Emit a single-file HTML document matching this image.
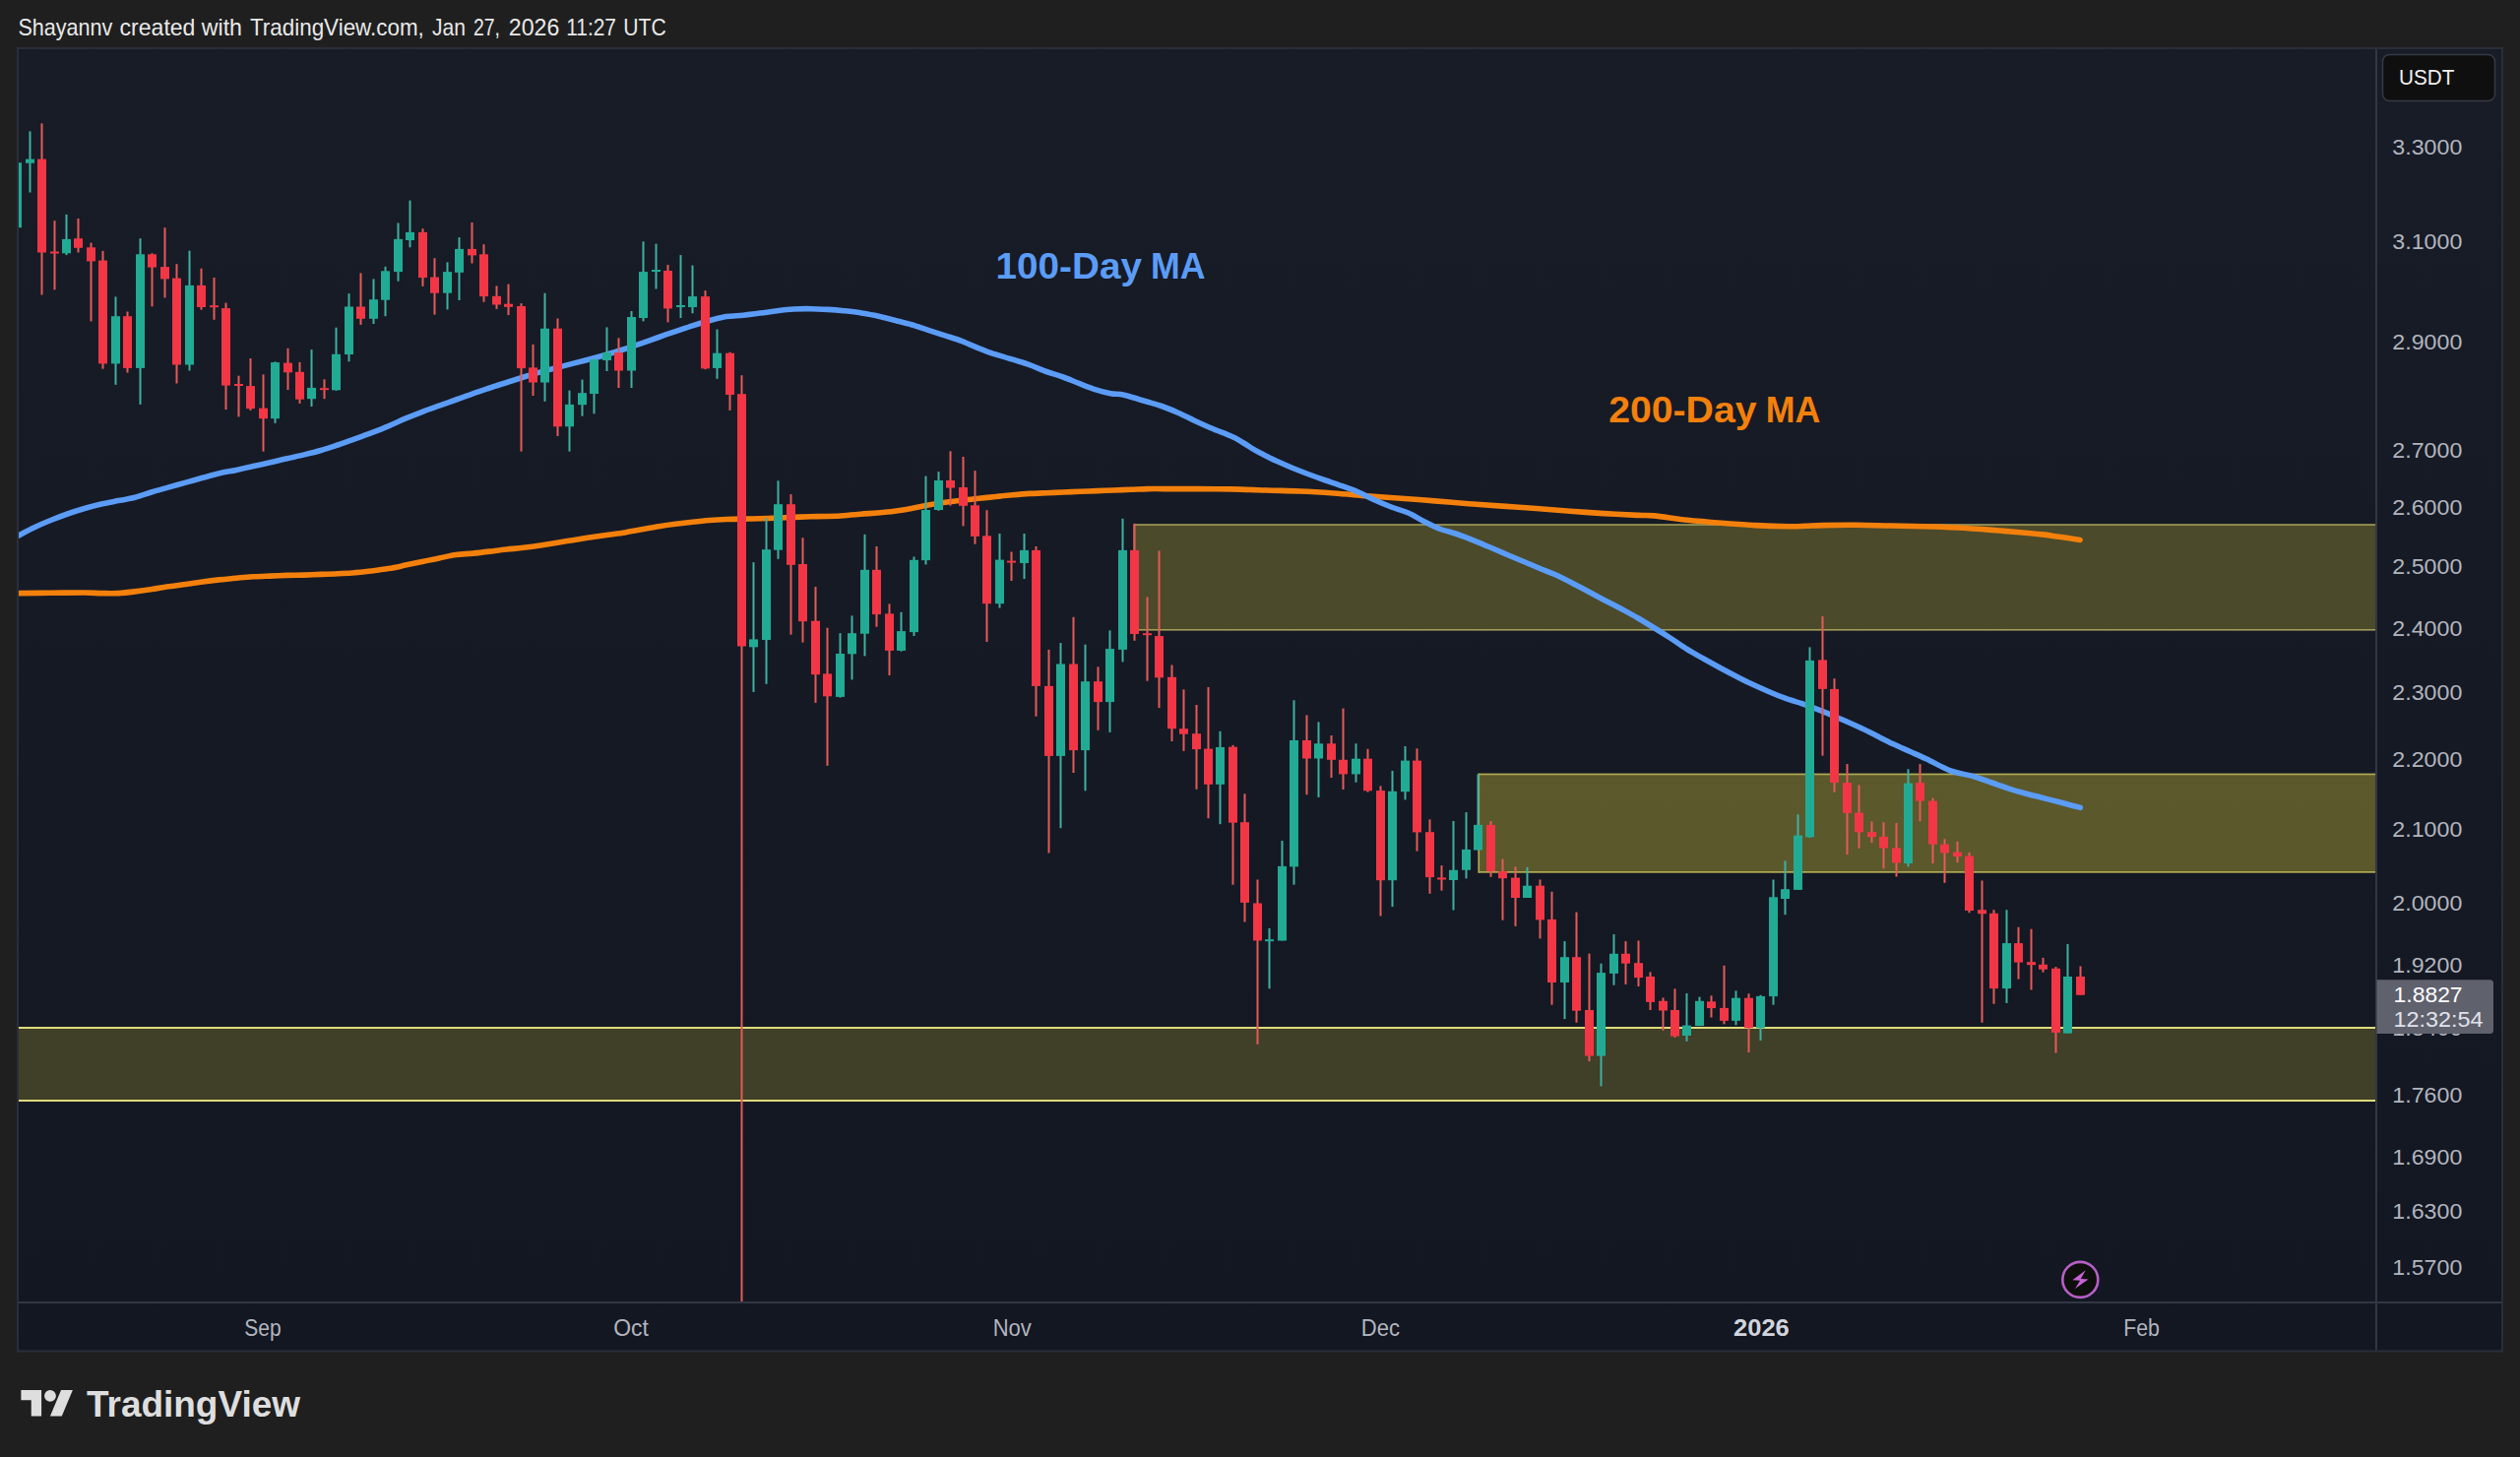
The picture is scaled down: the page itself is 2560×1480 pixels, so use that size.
<!DOCTYPE html>
<html lang="en"><head><meta charset="utf-8"><title>XRPUSDT chart - TradingView</title>
<style>html,body{margin:0;padding:0;background:#1f1f1f;}body{width:2560px;height:1480px;overflow:hidden;}svg{display:block}text{font-family:"Liberation Sans",sans-serif;}</style></head><body>
<svg width="2560" height="1480" viewBox="0 0 2560 1480">
<defs><linearGradient id="bg" x1="0" y1="0" x2="0" y2="1"><stop offset="0" stop-color="#181c27"/><stop offset="1" stop-color="#131722"/></linearGradient>
<clipPath id="pane"><rect x="19" y="50" width="2394" height="1272"/></clipPath></defs>
<rect x="0" y="0" width="2560" height="1480" fill="#1f1f1f"/>
<text y="36.3" font-size="23.6" fill="#e9e9e9"><tspan x="18.4" textLength="95.9" lengthAdjust="spacingAndGlyphs">Shayannv</tspan> <tspan x="121.6" textLength="76.8" lengthAdjust="spacingAndGlyphs">created</tspan> <tspan x="204.8" textLength="41.2" lengthAdjust="spacingAndGlyphs">with</tspan> <tspan x="254" textLength="176.8" lengthAdjust="spacingAndGlyphs">TradingView.com,</tspan> <tspan x="439" textLength="34.0" lengthAdjust="spacingAndGlyphs">Jan</tspan> <tspan x="481" textLength="27.0" lengthAdjust="spacingAndGlyphs">27,</tspan> <tspan x="516.8" textLength="51.5" lengthAdjust="spacingAndGlyphs">2026</tspan> <tspan x="575.2" textLength="50.8" lengthAdjust="spacingAndGlyphs">11:27</tspan> <tspan x="633.3" textLength="43.5" lengthAdjust="spacingAndGlyphs">UTC</tspan> </text>
<rect x="17" y="48" width="2526" height="1325.5" fill="#2a2e39"/>
<rect x="19" y="50" width="2522" height="1321.5" fill="url(#bg)"/>
<rect x="2413" y="50" width="2" height="1321.5" fill="#333744"/>
<rect x="19" y="1322" width="2522" height="2" fill="#333744"/>
<g clip-path="url(#pane)">
<rect x="1152" y="533" width="1261" height="107" fill="#ffeb3b" fill-opacity="0.23"/>
<rect x="1152" y="532.2" width="1261" height="1.6" fill="#a39d58"/>
<rect x="1152" y="639" width="1261" height="1.6" fill="#a39d58"/>
<rect x="1151.5" y="532.2" width="1.6" height="108.4" fill="#a39d58"/>
<rect x="1502" y="787" width="911" height="99" fill="#ffeb3b" fill-opacity="0.30"/>
<rect x="1502" y="785.6" width="911" height="1.7" fill="#b0aa52"/>
<rect x="1502" y="885" width="911" height="1.7" fill="#b0aa52"/>
<rect x="1501.4" y="785.6" width="1.7" height="101.1" fill="#b0aa52"/>
<rect x="19" y="1044" width="2394" height="74" fill="#ffeb3b" fill-opacity="0.19"/>
<rect x="19" y="1043" width="2394" height="2" fill="#dedb7c"/>
<rect x="19" y="1117" width="2394" height="2" fill="#dedb7c"/>
<path d="M17.8,602.6 C23.4,602.5 40.2,602.4 51.5,602.3 C62.8,602.2 77.2,602.0 85.8,602.0 C94.4,602.0 97.3,602.5 103.0,602.6 C108.7,602.7 114.4,602.9 120.1,602.6 C125.8,602.3 131.6,601.6 137.3,600.9 C143.0,600.2 148.7,599.4 154.4,598.5 C160.1,597.6 165.9,596.6 171.6,595.8 C177.3,594.9 183.0,594.2 188.7,593.4 C194.4,592.6 200.2,591.8 205.9,591.0 C211.6,590.2 217.3,589.5 223.0,588.9 C228.7,588.3 234.5,587.7 240.2,587.2 C245.9,586.7 251.7,586.1 257.4,585.8 C263.1,585.4 268.8,585.3 274.5,585.1 C280.2,584.9 286.0,584.6 291.7,584.4 C297.4,584.2 303.2,584.3 308.9,584.1 C314.6,583.9 320.3,583.6 326.0,583.4 C331.7,583.2 337.5,583.0 343.2,582.7 C348.9,582.4 354.6,582.2 360.3,581.7 C366.0,581.2 371.8,580.7 377.5,580.0 C383.2,579.3 388.9,578.6 394.6,577.6 C400.3,576.6 406.1,575.3 411.8,574.1 C417.5,572.9 423.3,571.6 429.0,570.4 C434.7,569.2 440.4,568.0 446.1,566.9 C451.8,565.8 457.6,564.3 463.3,563.5 C469.0,562.7 474.7,562.7 480.4,562.1 C486.1,561.5 491.9,560.8 497.6,560.1 C503.3,559.4 509.1,558.6 514.8,558.0 C520.5,557.4 526.2,557.0 531.9,556.3 C537.6,555.6 543.4,554.8 549.1,553.9 C554.8,553.0 560.5,552.1 566.2,551.2 C571.9,550.3 577.7,549.3 583.4,548.4 C589.1,547.5 594.8,546.6 600.5,545.7 C606.2,544.9 612.0,544.1 617.7,543.3 C623.4,542.5 629.2,541.8 634.9,540.9 C640.6,540.0 646.3,538.8 652.0,537.8 C657.7,536.8 663.5,535.6 669.2,534.7 C674.9,533.8 680.6,533.0 686.3,532.3 C692.0,531.5 697.8,530.8 703.5,530.2 C709.2,529.6 715.0,529.0 720.7,528.5 C726.4,528.0 732.1,527.7 737.8,527.5 C743.5,527.3 749.3,527.2 755.0,527.1 C760.7,527.0 766.4,527.0 772.1,526.8 C777.8,526.6 783.6,526.3 789.3,526.1 C795.0,525.9 800.7,525.6 806.4,525.4 C812.1,525.2 818.0,524.9 823.6,524.7 C829.2,524.6 834.4,524.7 840.0,524.5 C845.6,524.3 851.5,524.1 857.2,523.7 C862.9,523.3 868.6,522.8 874.3,522.3 C880.0,521.8 885.8,521.5 891.5,521.0 C897.2,520.5 902.9,520.0 908.6,519.2 C914.3,518.5 920.1,517.5 925.8,516.5 C931.5,515.5 937.3,514.1 943.0,513.1 C948.7,512.1 954.4,511.1 960.1,510.3 C965.8,509.5 971.6,509.0 977.3,508.3 C983.0,507.6 988.7,506.8 994.4,506.2 C1000.1,505.6 1005.9,505.1 1011.6,504.5 C1017.3,503.9 1023.0,503.3 1028.7,502.8 C1034.4,502.3 1040.2,501.8 1045.9,501.4 C1051.6,501.0 1057.4,500.9 1063.1,500.7 C1068.8,500.5 1074.5,500.2 1080.2,500.0 C1085.9,499.8 1091.7,499.5 1097.4,499.3 C1103.1,499.1 1108.8,498.8 1114.5,498.6 C1120.2,498.4 1126.0,498.2 1131.7,498.0 C1137.4,497.8 1143.2,497.5 1148.9,497.3 C1154.6,497.1 1160.3,496.7 1166.0,496.6 C1171.7,496.5 1174.6,496.6 1183.2,496.6 C1191.8,496.6 1206.1,496.6 1217.5,496.6 C1228.9,496.7 1240.4,496.7 1251.8,496.9 C1263.2,497.1 1274.7,497.6 1286.1,498.0 C1297.5,498.4 1309.0,498.5 1320.4,499.0 C1331.9,499.5 1343.3,500.2 1354.8,501.0 C1366.2,501.8 1377.7,502.9 1389.1,503.8 C1400.5,504.7 1412.0,505.4 1423.4,506.2 C1434.8,507.0 1446.3,508.0 1457.7,508.9 C1469.1,509.8 1480.6,510.8 1492.0,511.7 C1503.4,512.6 1514.8,513.3 1526.3,514.1 C1537.8,514.9 1549.2,515.6 1560.7,516.5 C1572.2,517.4 1583.6,518.4 1595.0,519.2 C1606.4,520.1 1617.9,520.9 1629.3,521.6 C1640.7,522.3 1655.1,523.0 1663.6,523.4 C1672.0,523.8 1671.5,523.1 1680.0,523.9 C1688.5,524.7 1702.9,527.0 1714.3,528.2 C1725.7,529.4 1737.1,530.3 1748.6,531.2 C1760.0,532.1 1771.5,533.0 1783.0,533.6 C1794.5,534.2 1808.7,534.6 1817.3,534.7 C1825.9,534.8 1828.7,534.5 1834.4,534.3 C1840.1,534.1 1843.0,533.8 1851.6,533.6 C1860.2,533.4 1874.5,533.2 1885.9,533.3 C1897.3,533.4 1908.8,533.8 1920.2,534.0 C1931.6,534.2 1943.0,534.4 1954.5,534.7 C1966.0,535.0 1977.5,535.4 1988.9,536.0 C2000.4,536.6 2011.8,537.5 2023.2,538.4 C2034.6,539.3 2048.9,540.5 2057.5,541.2 C2066.1,542.0 2069.0,542.2 2074.7,542.9 C2080.4,543.6 2085.4,544.4 2091.8,545.3 C2098.2,546.2 2109.6,547.9 2113.1,548.4" fill="none" stroke="#f4800c" stroke-width="5.6" stroke-linejoin="round" stroke-linecap="round"/>
<path d="M17.8,544.6 C20.6,543.2 28.7,538.7 34.3,536.0 C39.9,533.3 45.8,530.8 51.5,528.5 C57.2,526.2 62.9,524.0 68.6,522.0 C74.3,520.0 80.1,518.2 85.8,516.5 C91.5,514.8 97.3,513.3 103.0,512.0 C108.7,510.7 114.4,509.7 120.1,508.6 C125.8,507.5 131.6,506.7 137.3,505.2 C143.0,503.7 148.7,501.4 154.4,499.7 C160.1,498.0 165.9,496.5 171.6,494.9 C177.3,493.3 183.0,491.7 188.7,490.1 C194.4,488.5 200.2,486.9 205.9,485.3 C211.6,483.8 217.3,482.1 223.0,480.8 C228.7,479.5 234.5,478.6 240.2,477.4 C245.9,476.2 251.7,474.9 257.4,473.6 C263.1,472.3 268.8,471.1 274.5,469.8 C280.2,468.5 286.0,467.0 291.7,465.7 C297.4,464.4 303.2,463.3 308.9,461.9 C314.6,460.5 320.3,459.1 326.0,457.5 C331.7,455.9 337.5,453.9 343.2,452.0 C348.9,450.1 354.6,447.9 360.3,445.8 C366.0,443.7 371.8,441.8 377.5,439.6 C383.2,437.4 388.9,435.2 394.6,432.8 C400.3,430.4 406.1,427.6 411.8,425.2 C417.5,422.8 423.3,420.5 429.0,418.3 C434.7,416.1 440.4,414.2 446.1,412.2 C451.8,410.1 457.6,408.1 463.3,406.0 C469.0,403.9 474.7,401.8 480.4,399.8 C486.1,397.8 491.9,395.9 497.6,394.0 C503.3,392.1 509.1,390.3 514.8,388.5 C520.5,386.7 526.2,384.8 531.9,383.0 C537.6,381.2 543.4,379.5 549.1,377.9 C554.8,376.3 560.5,374.9 566.2,373.4 C571.9,371.9 577.7,370.4 583.4,368.9 C589.1,367.4 594.8,366.0 600.5,364.5 C606.2,363.0 612.0,361.4 617.7,359.7 C623.4,358.0 629.2,356.3 634.9,354.5 C640.6,352.7 646.3,350.7 652.0,348.7 C657.7,346.7 663.5,344.5 669.2,342.5 C674.9,340.5 680.6,338.6 686.3,336.7 C692.0,334.8 697.8,332.6 703.5,330.8 C709.2,329.0 715.0,327.2 720.7,325.7 C726.4,324.2 732.1,322.5 737.8,321.6 C743.5,320.7 749.3,320.8 755.0,320.2 C760.7,319.6 766.4,318.9 772.1,318.1 C777.8,317.4 783.6,316.4 789.3,315.7 C795.0,315.0 800.7,314.3 806.4,314.0 C812.1,313.7 817.9,313.6 823.6,313.7 C829.3,313.8 835.2,314.1 840.8,314.4 C846.4,314.7 851.6,315.1 857.2,315.7 C862.8,316.3 868.6,316.9 874.3,317.8 C880.0,318.7 885.8,319.6 891.5,320.9 C897.2,322.1 902.9,323.8 908.6,325.3 C914.3,326.8 920.1,328.1 925.8,329.8 C931.5,331.5 937.3,333.5 943.0,335.3 C948.7,337.1 954.4,338.9 960.1,340.8 C965.8,342.7 971.6,344.4 977.3,346.6 C983.0,348.8 989.8,351.9 994.4,353.8 C999.0,355.7 1001.8,356.9 1004.7,357.9 C1007.6,358.9 1007.6,358.8 1011.6,360.0 C1015.6,361.2 1023.0,363.4 1028.7,365.2 C1034.4,367.0 1040.2,368.6 1045.9,370.6 C1051.6,372.7 1057.4,375.4 1063.1,377.5 C1068.8,379.6 1074.4,381.0 1080.0,383.0 C1085.6,385.0 1091.2,387.6 1096.7,389.7 C1102.2,391.8 1108.0,394.1 1113.3,395.8 C1118.6,397.5 1124.1,398.9 1128.3,399.7 C1132.5,400.5 1135.2,400.0 1138.3,400.5 C1141.4,401.0 1142.5,401.3 1146.7,402.5 C1150.9,403.7 1157.8,405.8 1163.3,407.5 C1168.8,409.2 1174.4,410.6 1180.0,412.5 C1185.6,414.4 1191.2,416.8 1196.7,419.2 C1202.2,421.6 1207.8,424.6 1213.3,427.2 C1218.8,429.8 1224.4,432.3 1230.0,434.7 C1235.6,437.1 1242.5,439.6 1246.7,441.3 C1250.9,443.0 1252.2,443.6 1255.0,445.0 C1257.8,446.4 1260.5,448.3 1263.3,450.0 C1266.1,451.7 1268.9,453.6 1271.7,455.3 C1274.5,457.0 1277.2,458.5 1280.0,460.0 C1282.8,461.5 1285.5,462.8 1288.3,464.2 C1291.1,465.6 1292.5,466.4 1296.7,468.3 C1300.9,470.2 1307.8,473.2 1313.3,475.5 C1318.8,477.8 1324.4,479.9 1330.0,482.0 C1335.6,484.1 1341.2,486.1 1346.7,488.0 C1352.2,489.9 1357.8,491.7 1363.3,493.7 C1368.8,495.7 1374.4,497.6 1380.0,500.0 C1385.6,502.4 1391.2,505.5 1396.7,508.0 C1402.2,510.5 1407.8,512.9 1413.3,515.0 C1418.8,517.1 1424.4,518.3 1430.0,520.8 C1435.6,523.2 1441.2,526.9 1446.7,529.7 C1452.2,532.5 1457.8,535.4 1463.3,537.5 C1468.8,539.6 1474.4,540.6 1480.0,542.5 C1485.6,544.4 1491.2,546.6 1496.7,548.8 C1502.2,551.0 1507.8,553.4 1513.3,555.8 C1518.8,558.2 1524.4,560.6 1530.0,563.0 C1535.6,565.4 1541.2,567.7 1546.7,570.0 C1552.2,572.3 1557.8,574.7 1563.3,577.0 C1568.8,579.3 1574.4,581.2 1580.0,583.7 C1585.6,586.2 1591.2,589.1 1596.7,592.0 C1602.2,594.9 1607.8,597.8 1613.3,600.8 C1618.8,603.8 1624.4,606.8 1630.0,609.7 C1635.6,612.6 1641.2,615.3 1646.7,618.3 C1652.2,621.3 1657.8,624.3 1663.3,627.5 C1668.8,630.7 1674.4,634.1 1680.0,637.5 C1685.6,640.9 1691.2,644.4 1696.7,648.0 C1702.2,651.6 1707.8,655.7 1713.3,659.2 C1718.8,662.7 1724.4,665.7 1730.0,668.8 C1735.6,671.9 1741.2,675.0 1746.7,678.0 C1752.2,681.0 1757.8,683.9 1763.3,686.7 C1768.8,689.5 1774.4,692.4 1780.0,695.0 C1785.6,697.6 1791.2,700.1 1796.7,702.5 C1802.2,704.9 1807.8,707.2 1813.3,709.2 C1818.8,711.2 1825.5,713.0 1830.0,714.5 C1834.5,716.0 1835.5,716.5 1840.0,718.2 C1844.5,719.9 1851.2,722.5 1856.7,724.7 C1862.2,727.0 1867.8,729.3 1873.3,731.7 C1878.8,734.1 1884.4,736.6 1890.0,739.2 C1895.6,741.8 1901.2,744.7 1906.7,747.5 C1912.2,750.3 1917.8,753.2 1923.3,755.8 C1928.8,758.4 1934.4,760.8 1940.0,763.3 C1945.6,765.8 1951.2,768.1 1956.7,770.8 C1962.2,773.4 1969.1,777.2 1973.3,779.2 C1977.5,781.2 1978.9,782.0 1981.7,783.0 C1984.5,784.0 1985.8,784.3 1990.0,785.3 C1994.2,786.3 2001.2,787.6 2006.7,789.2 C2012.2,790.8 2017.8,793.1 2023.3,795.0 C2028.8,796.9 2034.4,799.0 2040.0,800.8 C2045.6,802.6 2051.1,804.3 2056.7,805.8 C2062.2,807.3 2067.8,808.6 2073.3,810.0 C2078.9,811.4 2084.4,812.8 2090.0,814.2 C2095.6,815.7 2102.8,817.7 2106.7,818.7 C2110.6,819.7 2112.2,820.0 2113.3,820.3" fill="none" stroke="#5b9cf6" stroke-width="5.6" stroke-linejoin="round" stroke-linecap="round"/>
<rect x="16.5" y="145.6" width="2" height="97.4" fill="#3fb0a2"/>
<rect x="13" y="165.2" width="9" height="66.0" fill="#22ab94"/>
<rect x="29.5" y="133.4" width="2" height="62.1" fill="#3fb0a2"/>
<rect x="26" y="161.6" width="9" height="4.1" fill="#22ab94"/>
<rect x="41.5" y="125.3" width="2" height="174.2" fill="#e65a58"/>
<rect x="38" y="161.6" width="9" height="94.9" fill="#f23645"/>
<rect x="54.5" y="224.2" width="2" height="70.1" fill="#e65a58"/>
<rect x="51" y="255.5" width="9" height="2.0" fill="#f23645"/>
<rect x="66.5" y="217.9" width="2" height="41.2" fill="#3fb0a2"/>
<rect x="63" y="242.9" width="9" height="14.4" fill="#22ab94"/>
<rect x="78.5" y="222.0" width="2" height="34.5" fill="#e65a58"/>
<rect x="75" y="242.2" width="9" height="9.6" fill="#f23645"/>
<rect x="91.5" y="246.6" width="2" height="79.8" fill="#e65a58"/>
<rect x="88" y="251.3" width="9" height="14.1" fill="#f23645"/>
<rect x="103.5" y="254.9" width="2" height="119.8" fill="#e65a58"/>
<rect x="100" y="264.6" width="9" height="104.8" fill="#f23645"/>
<rect x="116.5" y="301.4" width="2" height="89.4" fill="#3fb0a2"/>
<rect x="113" y="321.2" width="9" height="48.2" fill="#22ab94"/>
<rect x="128.5" y="316.5" width="2" height="62.1" fill="#e65a58"/>
<rect x="125" y="321.2" width="9" height="52.7" fill="#f23645"/>
<rect x="141.5" y="242.2" width="2" height="168.7" fill="#3fb0a2"/>
<rect x="138" y="258.3" width="9" height="115.6" fill="#22ab94"/>
<rect x="153.5" y="257.3" width="2" height="54.0" fill="#e65a58"/>
<rect x="150" y="258.3" width="9" height="13.3" fill="#f23645"/>
<rect x="166.5" y="231.2" width="2" height="71.2" fill="#e65a58"/>
<rect x="163" y="271.1" width="9" height="12.3" fill="#f23645"/>
<rect x="178.5" y="268.2" width="2" height="121.3" fill="#e65a58"/>
<rect x="175" y="282.6" width="9" height="87.9" fill="#f23645"/>
<rect x="191.5" y="254.7" width="2" height="121.8" fill="#3fb0a2"/>
<rect x="188" y="289.9" width="9" height="80.6" fill="#22ab94"/>
<rect x="203.5" y="272.7" width="2" height="42.0" fill="#e65a58"/>
<rect x="200" y="289.9" width="9" height="22.1" fill="#f23645"/>
<rect x="216.5" y="282.0" width="2" height="42.8" fill="#e65a58"/>
<rect x="213" y="310.2" width="9" height="2.0" fill="#f23645"/>
<rect x="228.5" y="307.6" width="2" height="108.5" fill="#e65a58"/>
<rect x="225" y="313.1" width="9" height="78.5" fill="#f23645"/>
<rect x="241.5" y="381.7" width="2" height="41.7" fill="#e65a58"/>
<rect x="238" y="390.0" width="9" height="2.0" fill="#f23645"/>
<rect x="253.5" y="364.0" width="2" height="52.9" fill="#e65a58"/>
<rect x="250" y="392.1" width="9" height="23.0" fill="#f23645"/>
<rect x="266.5" y="380.4" width="2" height="78.2" fill="#e65a58"/>
<rect x="263" y="414.6" width="9" height="10.6" fill="#f23645"/>
<rect x="278.5" y="367.3" width="2" height="62.6" fill="#3fb0a2"/>
<rect x="275" y="368.1" width="9" height="57.1" fill="#22ab94"/>
<rect x="291.5" y="353.8" width="2" height="42.2" fill="#e65a58"/>
<rect x="288" y="368.6" width="9" height="9.7" fill="#f23645"/>
<rect x="303.5" y="367.9" width="2" height="42.0" fill="#e65a58"/>
<rect x="300" y="377.8" width="9" height="27.9" fill="#f23645"/>
<rect x="315.5" y="355.1" width="2" height="57.9" fill="#3fb0a2"/>
<rect x="312" y="393.9" width="9" height="11.3" fill="#22ab94"/>
<rect x="328.5" y="385.3" width="2" height="19.9" fill="#e65a58"/>
<rect x="325" y="394.2" width="9" height="2.0" fill="#f23645"/>
<rect x="340.5" y="332.7" width="2" height="64.1" fill="#3fb0a2"/>
<rect x="337" y="359.8" width="9" height="36.5" fill="#22ab94"/>
<rect x="353.5" y="298.2" width="2" height="69.1" fill="#3fb0a2"/>
<rect x="350" y="311.5" width="9" height="48.5" fill="#22ab94"/>
<rect x="365.5" y="277.4" width="2" height="52.6" fill="#e65a58"/>
<rect x="362" y="311.5" width="9" height="12.3" fill="#f23645"/>
<rect x="378.5" y="283.4" width="2" height="45.6" fill="#3fb0a2"/>
<rect x="375" y="304.2" width="9" height="19.6" fill="#22ab94"/>
<rect x="390.5" y="270.8" width="2" height="50.4" fill="#3fb0a2"/>
<rect x="387" y="275.3" width="9" height="29.4" fill="#22ab94"/>
<rect x="403.5" y="226.5" width="2" height="59.2" fill="#3fb0a2"/>
<rect x="400" y="242.9" width="9" height="33.2" fill="#22ab94"/>
<rect x="415.5" y="203.6" width="2" height="47.7" fill="#3fb0a2"/>
<rect x="412" y="235.9" width="9" height="8.1" fill="#22ab94"/>
<rect x="428.5" y="232.2" width="2" height="58.7" fill="#e65a58"/>
<rect x="425" y="235.9" width="9" height="46.2" fill="#f23645"/>
<rect x="440.5" y="262.2" width="2" height="57.4" fill="#e65a58"/>
<rect x="437" y="281.5" width="9" height="16.2" fill="#f23645"/>
<rect x="453.5" y="266.4" width="2" height="48.0" fill="#3fb0a2"/>
<rect x="450" y="276.1" width="9" height="21.6" fill="#22ab94"/>
<rect x="465.5" y="241.1" width="2" height="63.9" fill="#3fb0a2"/>
<rect x="462" y="252.9" width="9" height="23.9" fill="#22ab94"/>
<rect x="478.5" y="226.0" width="2" height="41.5" fill="#e65a58"/>
<rect x="475" y="252.9" width="9" height="6.5" fill="#f23645"/>
<rect x="490.5" y="248.2" width="2" height="58.6" fill="#e65a58"/>
<rect x="487" y="258.3" width="9" height="42.8" fill="#f23645"/>
<rect x="503.5" y="290.4" width="2" height="23.5" fill="#e65a58"/>
<rect x="500" y="300.8" width="9" height="8.7" fill="#f23645"/>
<rect x="515.5" y="288.6" width="2" height="31.5" fill="#e65a58"/>
<rect x="512" y="308.7" width="9" height="3.1" fill="#f23645"/>
<rect x="528.5" y="308.1" width="2" height="150.5" fill="#e65a58"/>
<rect x="525" y="311.0" width="9" height="63.1" fill="#f23645"/>
<rect x="540.5" y="349.9" width="2" height="52.1" fill="#e65a58"/>
<rect x="537" y="373.4" width="9" height="15.1" fill="#f23645"/>
<rect x="552.5" y="297.7" width="2" height="110.1" fill="#3fb0a2"/>
<rect x="549" y="333.7" width="9" height="54.8" fill="#22ab94"/>
<rect x="565.5" y="323.5" width="2" height="119.5" fill="#e65a58"/>
<rect x="562" y="333.7" width="9" height="99.6" fill="#f23645"/>
<rect x="577.5" y="396.6" width="2" height="62.0" fill="#3fb0a2"/>
<rect x="574" y="410.9" width="9" height="22.4" fill="#22ab94"/>
<rect x="590.5" y="385.6" width="2" height="37.0" fill="#3fb0a2"/>
<rect x="587" y="399.2" width="9" height="12.0" fill="#22ab94"/>
<rect x="602.5" y="364.0" width="2" height="56.3" fill="#3fb0a2"/>
<rect x="599" y="365.3" width="9" height="34.7" fill="#22ab94"/>
<rect x="615.5" y="332.4" width="2" height="44.6" fill="#3fb0a2"/>
<rect x="612" y="358.2" width="9" height="7.8" fill="#22ab94"/>
<rect x="627.5" y="343.4" width="2" height="50.6" fill="#e65a58"/>
<rect x="624" y="358.2" width="9" height="18.3" fill="#f23645"/>
<rect x="640.5" y="316.0" width="2" height="78.0" fill="#3fb0a2"/>
<rect x="637" y="322.0" width="9" height="54.5" fill="#22ab94"/>
<rect x="652.5" y="245.3" width="2" height="81.1" fill="#3fb0a2"/>
<rect x="649" y="276.1" width="9" height="46.9" fill="#22ab94"/>
<rect x="665.5" y="247.6" width="2" height="45.9" fill="#3fb0a2"/>
<rect x="662" y="274.0" width="9" height="2.0" fill="#22ab94"/>
<rect x="677.5" y="269.0" width="2" height="58.4" fill="#e65a58"/>
<rect x="674" y="275.0" width="9" height="38.4" fill="#f23645"/>
<rect x="690.5" y="259.1" width="2" height="63.9" fill="#3fb0a2"/>
<rect x="687" y="310.0" width="9" height="2.0" fill="#22ab94"/>
<rect x="702.5" y="269.5" width="2" height="48.8" fill="#3fb0a2"/>
<rect x="699" y="301.1" width="9" height="11.0" fill="#22ab94"/>
<rect x="715.5" y="295.1" width="2" height="80.1" fill="#e65a58"/>
<rect x="712" y="301.1" width="9" height="73.3" fill="#f23645"/>
<rect x="727.5" y="334.5" width="2" height="50.3" fill="#3fb0a2"/>
<rect x="724" y="358.7" width="9" height="15.2" fill="#22ab94"/>
<rect x="740.5" y="357.7" width="2" height="59.2" fill="#e65a58"/>
<rect x="737" y="358.7" width="9" height="42.3" fill="#f23645"/>
<rect x="752.5" y="381.2" width="2" height="940.8" fill="#e65a58"/>
<rect x="749" y="400.2" width="9" height="256.3" fill="#f23645"/>
<rect x="764.5" y="571.2" width="2" height="131.7" fill="#3fb0a2"/>
<rect x="761" y="649.4" width="9" height="7.9" fill="#22ab94"/>
<rect x="777.5" y="526.1" width="2" height="168.7" fill="#3fb0a2"/>
<rect x="774" y="558.2" width="9" height="91.8" fill="#22ab94"/>
<rect x="789.5" y="488.3" width="2" height="79.5" fill="#3fb0a2"/>
<rect x="786" y="512.2" width="9" height="46.5" fill="#22ab94"/>
<rect x="802.5" y="502.1" width="2" height="142.6" fill="#e65a58"/>
<rect x="799" y="512.2" width="9" height="61.6" fill="#f23645"/>
<rect x="814.5" y="546.2" width="2" height="106.4" fill="#e65a58"/>
<rect x="811" y="573.0" width="9" height="58.2" fill="#f23645"/>
<rect x="827.5" y="596.0" width="2" height="117.9" fill="#e65a58"/>
<rect x="824" y="630.7" width="9" height="54.5" fill="#f23645"/>
<rect x="839.5" y="637.7" width="2" height="140.1" fill="#e65a58"/>
<rect x="836" y="684.4" width="9" height="22.9" fill="#f23645"/>
<rect x="852.5" y="643.2" width="2" height="65.4" fill="#3fb0a2"/>
<rect x="849" y="664.0" width="9" height="43.9" fill="#22ab94"/>
<rect x="864.5" y="625.4" width="2" height="65.0" fill="#3fb0a2"/>
<rect x="861" y="643.2" width="9" height="21.1" fill="#22ab94"/>
<rect x="877.5" y="542.8" width="2" height="123.6" fill="#3fb0a2"/>
<rect x="874" y="578.8" width="9" height="64.9" fill="#22ab94"/>
<rect x="889.5" y="555.0" width="2" height="81.7" fill="#e65a58"/>
<rect x="886" y="578.8" width="9" height="45.3" fill="#f23645"/>
<rect x="902.5" y="613.4" width="2" height="72.6" fill="#e65a58"/>
<rect x="899" y="623.4" width="9" height="37.5" fill="#f23645"/>
<rect x="914.5" y="621.8" width="2" height="39.9" fill="#3fb0a2"/>
<rect x="911" y="641.1" width="9" height="19.8" fill="#22ab94"/>
<rect x="927.5" y="565.5" width="2" height="80.5" fill="#3fb0a2"/>
<rect x="924" y="568.8" width="9" height="73.3" fill="#22ab94"/>
<rect x="939.5" y="483.6" width="2" height="89.9" fill="#3fb0a2"/>
<rect x="936" y="518.0" width="9" height="51.1" fill="#22ab94"/>
<rect x="952.5" y="479.1" width="2" height="39.7" fill="#3fb0a2"/>
<rect x="949" y="488.0" width="9" height="30.0" fill="#22ab94"/>
<rect x="964.5" y="458.3" width="2" height="55.3" fill="#e65a58"/>
<rect x="961" y="488.0" width="9" height="7.6" fill="#f23645"/>
<rect x="977.5" y="464.0" width="2" height="70.4" fill="#e65a58"/>
<rect x="974" y="495.0" width="9" height="18.8" fill="#f23645"/>
<rect x="989.5" y="478.1" width="2" height="74.6" fill="#e65a58"/>
<rect x="986" y="513.3" width="9" height="31.6" fill="#f23645"/>
<rect x="1001.5" y="518.2" width="2" height="133.8" fill="#e65a58"/>
<rect x="998" y="544.3" width="9" height="68.9" fill="#f23645"/>
<rect x="1014.5" y="542.0" width="2" height="75.6" fill="#3fb0a2"/>
<rect x="1011" y="568.6" width="9" height="44.6" fill="#22ab94"/>
<rect x="1026.5" y="560.5" width="2" height="29.5" fill="#e65a58"/>
<rect x="1023" y="569.6" width="9" height="2.0" fill="#f23645"/>
<rect x="1039.5" y="542.0" width="2" height="46.1" fill="#3fb0a2"/>
<rect x="1036" y="558.9" width="9" height="13.1" fill="#22ab94"/>
<rect x="1051.5" y="555.0" width="2" height="172.7" fill="#e65a58"/>
<rect x="1048" y="558.9" width="9" height="138.0" fill="#f23645"/>
<rect x="1064.5" y="659.9" width="2" height="206.6" fill="#e65a58"/>
<rect x="1061" y="696.9" width="9" height="71.0" fill="#f23645"/>
<rect x="1076.5" y="653.1" width="2" height="188.1" fill="#3fb0a2"/>
<rect x="1073" y="674.5" width="9" height="93.4" fill="#22ab94"/>
<rect x="1089.5" y="626.8" width="2" height="158.2" fill="#e65a58"/>
<rect x="1086" y="674.5" width="9" height="87.6" fill="#f23645"/>
<rect x="1101.5" y="654.7" width="2" height="148.6" fill="#3fb0a2"/>
<rect x="1098" y="692.2" width="9" height="69.9" fill="#22ab94"/>
<rect x="1114.5" y="677.3" width="2" height="64.5" fill="#e65a58"/>
<rect x="1111" y="692.2" width="9" height="20.9" fill="#f23645"/>
<rect x="1126.5" y="640.4" width="2" height="103.5" fill="#3fb0a2"/>
<rect x="1123" y="659.1" width="9" height="54.0" fill="#22ab94"/>
<rect x="1139.5" y="526.8" width="2" height="145.6" fill="#3fb0a2"/>
<rect x="1136" y="558.9" width="9" height="101.0" fill="#22ab94"/>
<rect x="1151.5" y="531.8" width="2" height="119.0" fill="#e65a58"/>
<rect x="1148" y="558.9" width="9" height="85.1" fill="#f23645"/>
<rect x="1164.5" y="606.4" width="2" height="85.3" fill="#e65a58"/>
<rect x="1161" y="643.2" width="9" height="2.0" fill="#f23645"/>
<rect x="1176.5" y="559.5" width="2" height="159.6" fill="#e65a58"/>
<rect x="1173" y="646.1" width="9" height="42.2" fill="#f23645"/>
<rect x="1189.5" y="675.5" width="2" height="77.5" fill="#e65a58"/>
<rect x="1186" y="687.8" width="9" height="52.4" fill="#f23645"/>
<rect x="1201.5" y="700.3" width="2" height="62.6" fill="#e65a58"/>
<rect x="1198" y="740.2" width="9" height="5.5" fill="#f23645"/>
<rect x="1214.5" y="716.0" width="2" height="85.8" fill="#e65a58"/>
<rect x="1211" y="745.2" width="9" height="15.9" fill="#f23645"/>
<rect x="1226.5" y="698.0" width="2" height="133.2" fill="#e65a58"/>
<rect x="1223" y="760.6" width="9" height="36.2" fill="#f23645"/>
<rect x="1238.5" y="742.8" width="2" height="94.4" fill="#3fb0a2"/>
<rect x="1235" y="759.0" width="9" height="37.8" fill="#22ab94"/>
<rect x="1251.5" y="756.9" width="2" height="141.8" fill="#e65a58"/>
<rect x="1248" y="758.7" width="9" height="77.0" fill="#f23645"/>
<rect x="1263.5" y="806.3" width="2" height="130.2" fill="#e65a58"/>
<rect x="1260" y="835.2" width="9" height="81.7" fill="#f23645"/>
<rect x="1276.5" y="893.5" width="2" height="167.4" fill="#e65a58"/>
<rect x="1273" y="917.5" width="9" height="38.0" fill="#f23645"/>
<rect x="1288.5" y="943.0" width="2" height="61.3" fill="#3fb0a2"/>
<rect x="1285" y="954.2" width="9" height="2.0" fill="#22ab94"/>
<rect x="1301.5" y="854.0" width="2" height="101.5" fill="#3fb0a2"/>
<rect x="1298" y="879.9" width="9" height="75.6" fill="#22ab94"/>
<rect x="1313.5" y="711.3" width="2" height="187.4" fill="#3fb0a2"/>
<rect x="1310" y="752.0" width="9" height="128.4" fill="#22ab94"/>
<rect x="1326.5" y="726.4" width="2" height="80.8" fill="#e65a58"/>
<rect x="1323" y="752.0" width="9" height="18.5" fill="#f23645"/>
<rect x="1338.5" y="733.4" width="2" height="76.5" fill="#3fb0a2"/>
<rect x="1335" y="755.3" width="9" height="15.2" fill="#22ab94"/>
<rect x="1351.5" y="747.0" width="2" height="43.0" fill="#e65a58"/>
<rect x="1348" y="755.3" width="9" height="16.5" fill="#f23645"/>
<rect x="1363.5" y="719.6" width="2" height="82.4" fill="#e65a58"/>
<rect x="1360" y="771.8" width="9" height="14.6" fill="#f23645"/>
<rect x="1376.5" y="755.3" width="2" height="39.4" fill="#3fb0a2"/>
<rect x="1373" y="770.7" width="9" height="15.7" fill="#22ab94"/>
<rect x="1388.5" y="760.8" width="2" height="43.8" fill="#e65a58"/>
<rect x="1385" y="770.7" width="9" height="32.6" fill="#f23645"/>
<rect x="1401.5" y="798.4" width="2" height="132.1" fill="#e65a58"/>
<rect x="1398" y="803.1" width="9" height="91.1" fill="#f23645"/>
<rect x="1413.5" y="783.0" width="2" height="138.1" fill="#3fb0a2"/>
<rect x="1410" y="803.8" width="9" height="90.4" fill="#22ab94"/>
<rect x="1426.5" y="758.0" width="2" height="54.4" fill="#3fb0a2"/>
<rect x="1423" y="772.6" width="9" height="31.6" fill="#22ab94"/>
<rect x="1438.5" y="760.3" width="2" height="104.3" fill="#e65a58"/>
<rect x="1435" y="772.6" width="9" height="72.8" fill="#f23645"/>
<rect x="1451.5" y="832.4" width="2" height="75.4" fill="#e65a58"/>
<rect x="1448" y="845.2" width="9" height="45.9" fill="#f23645"/>
<rect x="1463.5" y="879.1" width="2" height="25.6" fill="#e65a58"/>
<rect x="1460" y="891.4" width="9" height="2.1" fill="#f23645"/>
<rect x="1475.5" y="834.0" width="2" height="90.5" fill="#3fb0a2"/>
<rect x="1472" y="883.8" width="9" height="10.2" fill="#22ab94"/>
<rect x="1488.5" y="825.1" width="2" height="67.3" fill="#3fb0a2"/>
<rect x="1485" y="862.9" width="9" height="20.9" fill="#22ab94"/>
<rect x="1500.5" y="786.5" width="2" height="77.0" fill="#3fb0a2"/>
<rect x="1497" y="837.9" width="9" height="25.6" fill="#22ab94"/>
<rect x="1513.5" y="834.0" width="2" height="56.8" fill="#e65a58"/>
<rect x="1510" y="837.9" width="9" height="47.2" fill="#f23645"/>
<rect x="1525.5" y="872.6" width="2" height="62.1" fill="#e65a58"/>
<rect x="1522" y="885.1" width="9" height="7.1" fill="#f23645"/>
<rect x="1538.5" y="880.4" width="2" height="60.5" fill="#e65a58"/>
<rect x="1535" y="891.6" width="9" height="20.4" fill="#f23645"/>
<rect x="1550.5" y="880.9" width="2" height="31.1" fill="#3fb0a2"/>
<rect x="1547" y="899.7" width="9" height="12.3" fill="#22ab94"/>
<rect x="1563.5" y="893.5" width="2" height="59.9" fill="#e65a58"/>
<rect x="1560" y="899.7" width="9" height="34.7" fill="#f23645"/>
<rect x="1575.5" y="905.7" width="2" height="115.0" fill="#e65a58"/>
<rect x="1572" y="933.9" width="9" height="64.1" fill="#f23645"/>
<rect x="1588.5" y="956.1" width="2" height="79.0" fill="#3fb0a2"/>
<rect x="1585" y="972.2" width="9" height="25.8" fill="#22ab94"/>
<rect x="1600.5" y="926.6" width="2" height="112.1" fill="#e65a58"/>
<rect x="1597" y="972.2" width="9" height="54.5" fill="#f23645"/>
<rect x="1613.5" y="968.6" width="2" height="109.5" fill="#e65a58"/>
<rect x="1610" y="1026.0" width="9" height="46.6" fill="#f23645"/>
<rect x="1625.5" y="978.7" width="2" height="124.7" fill="#3fb0a2"/>
<rect x="1622" y="988.1" width="9" height="84.5" fill="#22ab94"/>
<rect x="1638.5" y="949.0" width="2" height="51.7" fill="#3fb0a2"/>
<rect x="1635" y="968.8" width="9" height="20.1" fill="#22ab94"/>
<rect x="1650.5" y="956.1" width="2" height="43.8" fill="#e65a58"/>
<rect x="1647" y="968.8" width="9" height="9.9" fill="#f23645"/>
<rect x="1663.5" y="955.5" width="2" height="46.5" fill="#e65a58"/>
<rect x="1660" y="978.2" width="9" height="14.9" fill="#f23645"/>
<rect x="1675.5" y="987.4" width="2" height="38.6" fill="#e65a58"/>
<rect x="1672" y="992.0" width="9" height="25.9" fill="#f23645"/>
<rect x="1688.5" y="1013.4" width="2" height="33.4" fill="#e65a58"/>
<rect x="1685" y="1016.8" width="9" height="9.7" fill="#f23645"/>
<rect x="1700.5" y="1004.3" width="2" height="49.6" fill="#e65a58"/>
<rect x="1697" y="1026.0" width="9" height="26.6" fill="#f23645"/>
<rect x="1712.5" y="1009.0" width="2" height="48.8" fill="#3fb0a2"/>
<rect x="1709" y="1041.6" width="9" height="10.4" fill="#22ab94"/>
<rect x="1725.5" y="1012.6" width="2" height="29.5" fill="#3fb0a2"/>
<rect x="1722" y="1016.8" width="9" height="25.3" fill="#22ab94"/>
<rect x="1737.5" y="1011.3" width="2" height="22.2" fill="#e65a58"/>
<rect x="1734" y="1017.3" width="9" height="6.8" fill="#f23645"/>
<rect x="1750.5" y="980.8" width="2" height="59.5" fill="#e65a58"/>
<rect x="1747" y="1023.9" width="9" height="13.0" fill="#f23645"/>
<rect x="1762.5" y="1006.4" width="2" height="34.9" fill="#3fb0a2"/>
<rect x="1759" y="1013.7" width="9" height="23.2" fill="#22ab94"/>
<rect x="1775.5" y="1009.3" width="2" height="59.7" fill="#e65a58"/>
<rect x="1772" y="1013.7" width="9" height="30.5" fill="#f23645"/>
<rect x="1787.5" y="1010.8" width="2" height="46.2" fill="#3fb0a2"/>
<rect x="1784" y="1011.9" width="9" height="32.3" fill="#22ab94"/>
<rect x="1800.5" y="893.5" width="2" height="127.2" fill="#3fb0a2"/>
<rect x="1797" y="911.3" width="9" height="100.8" fill="#22ab94"/>
<rect x="1812.5" y="874.4" width="2" height="54.8" fill="#3fb0a2"/>
<rect x="1809" y="903.2" width="9" height="9.8" fill="#22ab94"/>
<rect x="1825.5" y="827.3" width="2" height="76.6" fill="#3fb0a2"/>
<rect x="1822" y="848.6" width="9" height="55.3" fill="#22ab94"/>
<rect x="1837.5" y="657.4" width="2" height="193.6" fill="#3fb0a2"/>
<rect x="1834" y="670.9" width="9" height="179.5" fill="#22ab94"/>
<rect x="1850.5" y="626.1" width="2" height="141.6" fill="#e65a58"/>
<rect x="1847" y="670.4" width="9" height="29.5" fill="#f23645"/>
<rect x="1862.5" y="689.2" width="2" height="115.5" fill="#e65a58"/>
<rect x="1859" y="699.9" width="9" height="95.2" fill="#f23645"/>
<rect x="1875.5" y="776.1" width="2" height="92.0" fill="#e65a58"/>
<rect x="1872" y="795.1" width="9" height="30.8" fill="#f23645"/>
<rect x="1887.5" y="797.4" width="2" height="64.4" fill="#e65a58"/>
<rect x="1884" y="825.6" width="9" height="19.8" fill="#f23645"/>
<rect x="1900.5" y="834.5" width="2" height="21.6" fill="#e65a58"/>
<rect x="1897" y="845.2" width="9" height="5.0" fill="#f23645"/>
<rect x="1912.5" y="835.2" width="2" height="47.1" fill="#e65a58"/>
<rect x="1909" y="849.9" width="9" height="11.7" fill="#f23645"/>
<rect x="1925.5" y="836.0" width="2" height="54.5" fill="#e65a58"/>
<rect x="1922" y="861.4" width="9" height="15.1" fill="#f23645"/>
<rect x="1937.5" y="781.3" width="2" height="99.1" fill="#3fb0a2"/>
<rect x="1934" y="795.6" width="9" height="81.4" fill="#22ab94"/>
<rect x="1949.5" y="776.1" width="2" height="58.1" fill="#e65a58"/>
<rect x="1946" y="795.1" width="9" height="18.5" fill="#f23645"/>
<rect x="1962.5" y="810.6" width="2" height="66.5" fill="#e65a58"/>
<rect x="1959" y="813.6" width="9" height="44.1" fill="#f23645"/>
<rect x="1974.5" y="852.3" width="2" height="44.5" fill="#e65a58"/>
<rect x="1971" y="857.7" width="9" height="8.7" fill="#f23645"/>
<rect x="1987.5" y="854.8" width="2" height="21.5" fill="#e65a58"/>
<rect x="1984" y="865.6" width="9" height="4.4" fill="#f23645"/>
<rect x="1999.5" y="866.0" width="2" height="61.2" fill="#e65a58"/>
<rect x="1996" y="869.5" width="9" height="55.5" fill="#f23645"/>
<rect x="2012.5" y="894.5" width="2" height="144.3" fill="#e65a58"/>
<rect x="2009" y="924.2" width="9" height="4.0" fill="#f23645"/>
<rect x="2024.5" y="924.2" width="2" height="95.5" fill="#e65a58"/>
<rect x="2021" y="927.8" width="9" height="76.3" fill="#f23645"/>
<rect x="2037.5" y="924.2" width="2" height="94.7" fill="#3fb0a2"/>
<rect x="2034" y="958.1" width="9" height="46.0" fill="#22ab94"/>
<rect x="2049.5" y="941.8" width="2" height="52.8" fill="#e65a58"/>
<rect x="2046" y="958.1" width="9" height="19.5" fill="#f23645"/>
<rect x="2062.5" y="943.7" width="2" height="61.8" fill="#e65a58"/>
<rect x="2059" y="977.2" width="9" height="3.0" fill="#f23645"/>
<rect x="2074.5" y="972.9" width="2" height="14.7" fill="#e65a58"/>
<rect x="2071" y="979.8" width="9" height="4.9" fill="#f23645"/>
<rect x="2087.5" y="982.1" width="2" height="87.5" fill="#e65a58"/>
<rect x="2084" y="983.8" width="9" height="65.1" fill="#f23645"/>
<rect x="2099.5" y="959.0" width="2" height="90.6" fill="#3fb0a2"/>
<rect x="2096" y="992.0" width="9" height="57.6" fill="#22ab94"/>
<rect x="2112.5" y="981.5" width="2" height="29.2" fill="#e65a58"/>
<rect x="2109" y="992.0" width="9" height="18.7" fill="#f23645"/>
<text y="282.5" font-size="37" font-weight="bold" fill="#5b9cf6"><tspan x="1011.5" textLength="148.5" lengthAdjust="spacingAndGlyphs">100-Day</tspan> <tspan x="1169" textLength="55.5" lengthAdjust="spacingAndGlyphs">MA</tspan></text>
<text y="428.9" font-size="37" font-weight="bold" fill="#f4800c"><tspan x="1634.2" textLength="150.3" lengthAdjust="spacingAndGlyphs">200-Day</tspan> <tspan x="1793.8" textLength="55.5" lengthAdjust="spacingAndGlyphs">MA</tspan></text>
<circle cx="2113.3" cy="1299.9" r="18" fill="#0d0f0d" stroke="#b65fc6" stroke-width="2.6"/>
<polygon points="2118.8,1290.3 2105.4,1300.3 2113.1,1300.8 2108,1309 2121.5,1299.5 2113.8,1298.9" fill="#c862d8"/>
</g>
<text x="2430.3" y="156.9" font-size="22" fill="#b2b5be" textLength="71" lengthAdjust="spacingAndGlyphs">3.3000</text>
<text x="2430.3" y="252.5" font-size="22" fill="#b2b5be" textLength="71" lengthAdjust="spacingAndGlyphs">3.1000</text>
<text x="2430.3" y="355.1" font-size="22" fill="#b2b5be" textLength="71" lengthAdjust="spacingAndGlyphs">2.9000</text>
<text x="2430.3" y="464.9" font-size="22" fill="#b2b5be" textLength="71" lengthAdjust="spacingAndGlyphs">2.7000</text>
<text x="2430.3" y="522.7" font-size="22" fill="#b2b5be" textLength="71" lengthAdjust="spacingAndGlyphs">2.6000</text>
<text x="2430.3" y="582.7" font-size="22" fill="#b2b5be" textLength="71" lengthAdjust="spacingAndGlyphs">2.5000</text>
<text x="2430.3" y="645.7" font-size="22" fill="#b2b5be" textLength="71" lengthAdjust="spacingAndGlyphs">2.4000</text>
<text x="2430.3" y="710.7" font-size="22" fill="#b2b5be" textLength="71" lengthAdjust="spacingAndGlyphs">2.3000</text>
<text x="2430.3" y="778.7" font-size="22" fill="#b2b5be" textLength="71" lengthAdjust="spacingAndGlyphs">2.2000</text>
<text x="2430.3" y="849.7" font-size="22" fill="#b2b5be" textLength="71" lengthAdjust="spacingAndGlyphs">2.1000</text>
<text x="2430.3" y="925.1" font-size="22" fill="#b2b5be" textLength="71" lengthAdjust="spacingAndGlyphs">2.0000</text>
<text x="2430.3" y="987.9" font-size="22" fill="#b2b5be" textLength="71" lengthAdjust="spacingAndGlyphs">1.9200</text>
<text x="2430.3" y="1051.7" font-size="22" fill="#b2b5be" textLength="71" lengthAdjust="spacingAndGlyphs">1.8400</text>
<text x="2430.3" y="1120.1" font-size="22" fill="#b2b5be" textLength="71" lengthAdjust="spacingAndGlyphs">1.7600</text>
<text x="2430.3" y="1183.1" font-size="22" fill="#b2b5be" textLength="71" lengthAdjust="spacingAndGlyphs">1.6900</text>
<text x="2430.3" y="1238.0" font-size="22" fill="#b2b5be" textLength="71" lengthAdjust="spacingAndGlyphs">1.6300</text>
<text x="2430.3" y="1294.8" font-size="22" fill="#b2b5be" textLength="71" lengthAdjust="spacingAndGlyphs">1.5700</text>
<path d="M2414.5,995.2 H2529.5 a3.5,3.5 0 0 1 3.5,3.5 V1046.5 a3.5,3.5 0 0 1 -3.5,3.5 H2414.5 Z" fill="#5f616d"/>
<text x="2431.6" y="1018.4" font-size="22" fill="#ffffff" textLength="70" lengthAdjust="spacingAndGlyphs">1.8827</text>
<text x="2431.6" y="1043.2" font-size="22" fill="#e0e3eb" textLength="91" lengthAdjust="spacingAndGlyphs">12:32:54</text>
<rect x="2420.5" y="55.5" width="114" height="47" rx="7" ry="7" fill="#0f0f0f" stroke="#363a45" stroke-width="1.5"/>
<text x="2437" y="86.4" font-size="22" fill="#f0f0f0" textLength="56.4" lengthAdjust="spacingAndGlyphs">USDT</text>
<text x="248.3" y="1356.8" font-size="23" textLength="37.3" lengthAdjust="spacingAndGlyphs" fill="#b2b5be">Sep</text>
<text x="623.2" y="1356.8" font-size="23" textLength="35.6" lengthAdjust="spacingAndGlyphs" fill="#b2b5be">Oct</text>
<text x="1008.7" y="1356.8" font-size="23" textLength="39.2" lengthAdjust="spacingAndGlyphs" fill="#b2b5be">Nov</text>
<text x="1382.8" y="1356.8" font-size="23" textLength="39.2" lengthAdjust="spacingAndGlyphs" fill="#b2b5be">Dec</text>
<text x="1761.0" y="1356.8" font-size="23" textLength="56.8" lengthAdjust="spacingAndGlyphs" fill="#d1d4dc" font-weight="bold">2026</text>
<text x="2157.2" y="1356.8" font-size="23" textLength="36.7" lengthAdjust="spacingAndGlyphs" fill="#b2b5be">Feb</text>
<g transform="translate(21.4,1406.1) scale(1.478)" fill="#dedede"><path d="M14 22H7V11H0V4h14v18z"/><circle cx="20" cy="8" r="4"/><path d="M28 22h-8l7.5-18h8L28 22z"/></g>
<text x="88" y="1438.6" font-size="37" font-weight="bold" fill="#dedede" textLength="217" lengthAdjust="spacingAndGlyphs">TradingView</text>
</svg></body></html>
